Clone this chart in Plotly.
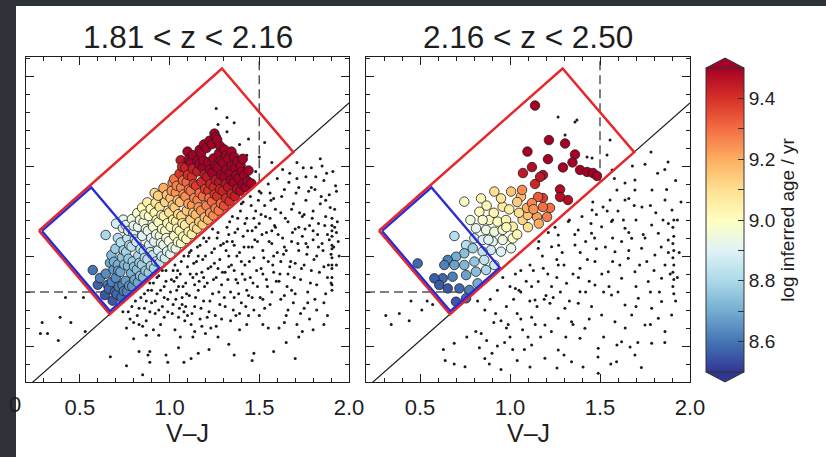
import math
import plotly.graph_objects as go

W, H = 826, 457

# ---------------- text / ticks ----------------
panel_titles = ["1.81 < z < 2.16", "2.16 < z < 2.50"]
x_title = "V\u2013J"
cbar_title = "log inferred age / yr"
cbar_tickvals = [8.6, 8.7, 8.8, 8.9, 9.0, 9.1, 9.2, 9.3, 9.4]
cbar_ticktext = ["8.6", "", "8.8", "", "9.0", "", "9.2", "", "9.4"]
age_min, age_max = 8.5, 9.5

# ---------------- selection geometry (data units) ----------------
diag_slope, diag_icpt = 0.88, 0.59
uv_cut, vj_cut = 1.3, 1.5
red_box = [(0.272, 1.640), (0.667, 1.177), (1.690, 2.077), (1.292, 2.542)]
blue_box = [(0.272, 1.640), (0.667, 1.177), (0.960, 1.435), (0.565, 1.898)]

# ---------------- panel 1: selected galaxies (V-J, U-V, log age) ----------------
p1_sel = [
    (0.572, 1.422, 8.60),
    (0.600, 1.340, 8.57), (0.612, 1.378, 8.62),
    (0.640, 1.283, 8.55), (0.645, 1.402, 8.64), (0.644, 1.617, 8.80), (0.655, 1.340, 8.60),
    (0.662, 1.318, 8.58), (0.668, 1.462, 8.69),
    (0.683, 1.252, 8.55), (0.678, 1.355, 8.62), (0.688, 1.425, 8.67), (0.676, 1.505, 8.73),
    (0.695, 1.300, 8.58), (0.690, 1.468, 8.71),
    (0.705, 1.288, 8.58), (0.700, 1.378, 8.64), (0.712, 1.452, 8.71), (0.698, 1.540, 8.77), (0.702, 1.680, 8.88),
    (0.716, 1.330, 8.61), (0.714, 1.418, 8.68), (0.712, 1.600, 8.82),
    (0.732, 1.270, 8.59), (0.738, 1.338, 8.63), (0.726, 1.412, 8.69), (0.735, 1.492, 8.75), (0.728, 1.575, 8.82), (0.740, 1.655, 8.88),
    (0.745, 1.305, 8.62), (0.748, 1.452, 8.73), (0.744, 1.532, 8.79), (0.742, 1.702, 8.91),
    (0.762, 1.302, 8.62), (0.755, 1.362, 8.67), (0.768, 1.445, 8.73), (0.758, 1.522, 8.79), (0.765, 1.598, 8.85), (0.756, 1.672, 8.90),
    (0.775, 1.335, 8.66), (0.771, 1.485, 8.76), (0.776, 1.560, 8.82), (0.770, 1.640, 8.87),
    (0.792, 1.332, 8.66), (0.786, 1.405, 8.71), (0.795, 1.470, 8.77), (0.788, 1.552, 8.83), (0.797, 1.628, 8.89), (0.790, 1.705, 8.94),
    (0.805, 1.368, 8.69), (0.802, 1.440, 8.74), (0.806, 1.592, 8.86), (0.800, 1.668, 8.92),
    (0.823, 1.352, 8.69), (0.818, 1.425, 8.74), (0.826, 1.502, 8.80), (0.815, 1.578, 8.86), (0.824, 1.662, 8.92), (0.820, 1.738, 8.97),
    (0.836, 1.390, 8.73), (0.832, 1.462, 8.77), (0.838, 1.540, 8.83), (0.835, 1.700, 8.95),
    (0.853, 1.382, 8.73), (0.846, 1.452, 8.78), (0.856, 1.528, 8.84), (0.848, 1.612, 8.90), (0.855, 1.688, 8.96), (0.847, 1.768, 9.01),
    (0.866, 1.418, 8.76), (0.862, 1.490, 8.81), (0.868, 1.650, 8.93), (0.860, 1.730, 8.99),
    (0.884, 1.408, 8.77), (0.877, 1.482, 8.82), (0.886, 1.562, 8.88), (0.879, 1.640, 8.93), (0.885, 1.722, 8.99), (0.876, 1.798, 9.04),
    (0.896, 1.445, 8.80), (0.892, 1.522, 8.85), (0.898, 1.600, 8.91), (0.895, 1.762, 9.02),
    (0.913, 1.432, 8.80), (0.906, 1.505, 8.85), (0.915, 1.580, 8.91), (0.908, 1.662, 8.97), (0.917, 1.740, 9.02), (0.917, 1.850, 9.11),
    (0.926, 1.470, 8.83), (0.925, 1.620, 8.94), (0.928, 1.700, 9.00), (0.922, 1.795, 9.09),
    (0.944, 1.462, 8.84), (0.936, 1.532, 8.89), (0.946, 1.612, 8.95), (0.938, 1.688, 9.00), (0.945, 1.772, 9.09), (0.936, 1.835, 9.13),
    (0.956, 1.498, 8.87), (0.952, 1.572, 8.92), (0.958, 1.650, 8.98), (0.955, 1.728, 9.03),
    (0.974, 1.488, 8.87), (0.966, 1.562, 8.93), (0.976, 1.640, 8.98), (0.968, 1.722, 9.04), (0.975, 1.800, 9.13), (0.966, 1.878, 9.20),
    (0.986, 1.525, 8.90), (0.982, 1.600, 8.95), (0.988, 1.682, 9.01), (0.985, 1.840, 9.16),
    (1.004, 1.512, 8.91), (0.996, 1.582, 8.96), (1.006, 1.662, 9.01), (0.998, 1.742, 9.10), (1.005, 1.822, 9.16), (1.017, 1.906, 9.26),
    (1.016, 1.548, 8.93), (1.020, 1.702, 9.04), (1.018, 1.782, 9.13), (1.012, 1.862, 9.23),
    (1.034, 1.542, 8.94), (1.026, 1.612, 8.99), (1.036, 1.692, 9.05), (1.028, 1.770, 9.14), (1.035, 1.852, 9.24), (1.026, 1.928, 9.29),
    (1.046, 1.578, 8.97), (1.042, 1.652, 9.02), (1.048, 1.732, 9.11), (1.045, 1.810, 9.17), (1.040, 1.890, 9.27),
    (1.064, 1.572, 8.98), (1.056, 1.640, 9.03), (1.066, 1.722, 9.12), (1.058, 1.800, 9.17), (1.065, 1.880, 9.27), (1.056, 1.958, 9.39), (1.062, 2.032, 9.45),
    (1.076, 1.608, 9.01), (1.072, 1.682, 9.06), (1.078, 1.842, 9.24), (1.075, 1.920, 9.31), (1.070, 1.995, 9.42),
    (1.094, 1.595, 9.01), (1.086, 1.672, 9.06), (1.096, 1.752, 9.15), (1.088, 1.830, 9.25), (1.095, 1.910, 9.31), (1.087, 1.990, 9.43), (1.100, 2.080, 9.50),
    (1.106, 1.635, 9.04), (1.105, 1.790, 9.22), (1.108, 1.870, 9.28), (1.102, 1.950, 9.40), (1.106, 2.035, 9.50),
    (1.124, 1.622, 9.05), (1.116, 1.700, 9.13), (1.126, 1.782, 9.23), (1.118, 1.862, 9.29), (1.125, 1.940, 9.40), (1.117, 2.020, 9.50), (1.130, 2.060, 9.50),
    (1.136, 1.662, 9.10), (1.132, 1.740, 9.16), (1.138, 1.822, 9.26), (1.135, 1.900, 9.37), (1.130, 1.985, 9.44),
    (1.154, 1.652, 9.11), (1.146, 1.730, 9.17), (1.156, 1.810, 9.27), (1.148, 1.890, 9.38), (1.155, 1.970, 9.44), (1.155, 2.030, 9.50),
    (1.166, 1.690, 9.14), (1.162, 1.770, 9.24), (1.168, 1.850, 9.30), (1.165, 2.010, 9.50), (1.168, 2.090, 9.50),
    (1.184, 1.675, 9.14), (1.176, 1.752, 9.24), (1.186, 1.832, 9.30), (1.178, 1.912, 9.41), (1.185, 1.992, 9.50), (1.176, 2.070, 9.50),
    (1.196, 1.715, 9.17), (1.198, 1.872, 9.38), (1.195, 1.952, 9.44), (1.190, 2.030, 9.50), (1.192, 2.120, 9.50),
    (1.214, 1.702, 9.18), (1.206, 1.780, 9.27), (1.216, 1.862, 9.39), (1.208, 1.940, 9.45), (1.215, 2.020, 9.50), (1.206, 2.100, 9.50),
    (1.226, 1.740, 9.24), (1.222, 1.822, 9.30), (1.228, 1.900, 9.42), (1.225, 1.980, 9.50), (1.222, 2.140, 9.50),
    (1.244, 1.725, 9.25), (1.236, 1.802, 9.31), (1.246, 1.882, 9.42), (1.238, 1.962, 9.50), (1.245, 2.042, 9.50), (1.236, 2.122, 9.50), (1.250, 2.180, 9.50),
    (1.256, 1.765, 9.28), (1.252, 1.842, 9.39), (1.258, 1.922, 9.45), (1.255, 2.002, 9.50), (1.258, 2.160, 9.50),
    (1.274, 1.752, 9.28), (1.266, 1.832, 9.40), (1.276, 1.910, 9.46), (1.268, 1.990, 9.50), (1.275, 2.070, 9.50), (1.266, 2.145, 9.50),
    (1.286, 1.792, 9.31), (1.282, 1.870, 9.42), (1.288, 1.950, 9.50), (1.285, 2.030, 9.50), (1.282, 2.110, 9.50),
    (1.304, 1.780, 9.35), (1.296, 1.862, 9.43), (1.306, 1.940, 9.50), (1.298, 2.020, 9.50), (1.305, 2.092, 9.50),
    (1.316, 1.820, 9.40), (1.312, 1.900, 9.46), (1.318, 1.980, 9.50), (1.315, 2.058, 9.50),
    (1.334, 1.805, 9.40), (1.326, 1.882, 9.46), (1.336, 1.960, 9.50), (1.328, 2.040, 9.50),
    (1.346, 1.845, 9.43), (1.342, 1.920, 9.50), (1.348, 2.000, 9.50), (1.345, 2.080, 9.50),
    (1.364, 1.832, 9.44), (1.356, 1.910, 9.50), (1.366, 1.990, 9.50), (1.360, 2.050, 9.50),
    (1.376, 1.872, 9.47), (1.372, 1.950, 9.50), (1.378, 2.025, 9.50),
    (1.394, 1.862, 9.48), (1.386, 1.932, 9.50), (1.396, 2.002, 9.50),
    (1.406, 1.898, 9.50), (1.402, 1.968, 9.50), (1.408, 2.040, 9.50),
    (1.424, 1.882, 9.50), (1.416, 1.950, 9.50),
    (1.436, 1.915, 9.50), (1.440, 1.975, 9.50),
    (1.456, 1.903, 9.50),
]

# ---------------- panel 1: all other galaxies (V-J, U-V) ----------------
p1_other = [
    (0.29, 1.13), (0.39, 1.16), (0.45, 1.13), (0.28, 1.07), (0.32, 1.07), (0.38, 1.03), (0.53, 1.08),
    (0.42, 1.27), (0.52, 1.27), (0.74, 1.19), (0.67, 0.94), (0.76, 0.89), (0.85, 0.84), (0.89, 0.97),
    (0.98, 0.95), (0.83, 0.97), (0.88, 0.95), (0.89, 0.91), (0.99, 0.91),
    (0.79, 1.22), (0.82, 1.17), (0.84, 1.27), (0.86, 1.21), (0.88, 1.31), (0.87, 1.14), (0.90, 1.24),
    (0.91, 1.35), (0.92, 1.18), (0.93, 1.29), (0.94, 1.39), (0.95, 1.12), (0.96, 1.22), (0.97, 1.33),
    (0.98, 1.42), (0.99, 1.26), (0.85, 1.11), (0.80, 1.13), (0.89, 1.35), (0.77, 1.19), (0.83, 1.12),
    (0.97, 1.16),
    (0.78, 1.15), (0.81, 1.25), (0.83, 1.21), (0.86, 1.29), (0.87, 1.25), (0.89, 1.19), (0.90, 1.31),
    (0.92, 1.25), (0.93, 1.38), (0.94, 1.20), (0.95, 1.31), (0.96, 1.42), (0.97, 1.27), (0.98, 1.36),
    (0.99, 1.19), (0.91, 1.09), (0.94, 1.06), (0.87, 1.06), (0.80, 1.04), (0.76, 1.10),
    (1.01, 1.37), (1.02, 1.23), (1.03, 1.45), (1.04, 1.31), (1.05, 1.16), (1.06, 1.40), (1.07, 1.27),
    (1.08, 1.50), (1.08, 1.19), (1.09, 1.35), (1.10, 1.44), (1.11, 1.28), (1.12, 1.53), (1.12, 1.12),
    (1.13, 1.38), (1.14, 1.22), (1.15, 1.47), (1.16, 1.31), (1.17, 1.56), (1.17, 1.15), (1.18, 1.41),
    (1.19, 1.25), (1.20, 1.50), (1.21, 1.35), (1.22, 1.60), (1.22, 1.19), (1.23, 1.44), (1.24, 1.29),
    (1.25, 1.54), (1.26, 1.38), (1.26, 1.11), (1.27, 1.63), (1.28, 1.23), (1.28, 1.48), (1.29, 1.34),
    (1.30, 1.57), (1.03, 1.09), (1.06, 1.05), (1.14, 1.08), (1.20, 1.07), (1.11, 1.52), (1.02, 1.42),
    (1.15, 1.40), (1.24, 1.65), (1.19, 1.60), (1.09, 1.22), (1.16, 1.50), (1.27, 1.43), (1.05, 1.33),
    (1.21, 1.16), (1.08, 0.91), (1.05, 0.99), (1.16, 0.96), (1.27, 1.05),
    (1.005, 1.30), (1.015, 1.18), (1.025, 1.36), (1.035, 1.26), (1.045, 1.42), (1.055, 1.21), (1.065, 1.47),
    (1.075, 1.33), (1.085, 1.14), (1.095, 1.29), (1.105, 1.50), (1.115, 1.40), (1.125, 1.18), (1.135, 1.46),
    (1.145, 1.27), (1.155, 1.55), (1.165, 1.36), (1.175, 1.21), (1.185, 1.48), (1.195, 1.33), (1.205, 1.58),
    (1.215, 1.43), (1.225, 1.25), (1.235, 1.52), (1.245, 1.37), (1.255, 1.17), (1.265, 1.60), (1.275, 1.30),
    (1.285, 1.56), (1.295, 1.41), (1.04, 1.38), (1.10, 1.17), (1.13, 1.05), (1.18, 1.11), (1.23, 1.10),
    (1.29, 1.15), (1.19, 1.38), (1.25, 1.46), (1.14, 1.34), (1.07, 1.23),
    (1.31, 1.41), (1.31, 1.22), (1.32, 1.66), (1.33, 1.50), (1.34, 1.30), (1.35, 1.72), (1.35, 1.58),
    (1.36, 1.42), (1.37, 1.17), (1.38, 1.65), (1.38, 1.35), (1.39, 1.52), (1.40, 1.79), (1.40, 1.24),
    (1.41, 1.61), (1.42, 1.45), (1.43, 1.71), (1.43, 1.31), (1.44, 1.55), (1.45, 1.83), (1.45, 1.38),
    (1.46, 1.64), (1.47, 1.20), (1.47, 1.49), (1.48, 1.75), (1.49, 1.58), (1.49, 1.33), (1.50, 1.86),
    (1.50, 1.68), (1.51, 1.43), (1.52, 1.53), (1.52, 1.26), (1.53, 1.78), (1.54, 1.63), (1.54, 1.37),
    (1.55, 1.90), (1.55, 1.47), (1.56, 1.71), (1.57, 1.57), (1.57, 1.30), (1.58, 1.82), (1.58, 1.41),
    (1.59, 1.66), (1.60, 1.52), (1.60, 1.93), (1.33, 1.62), (1.36, 1.27), (1.42, 1.68), (1.46, 1.27),
    (1.51, 1.73), (1.56, 1.85), (1.44, 1.17), (1.46, 0.92), (1.33, 1.01), (1.39, 1.09), (1.52, 1.12),
    (1.47, 0.96),
    (1.305, 1.27), (1.315, 1.53), (1.325, 1.37), (1.335, 1.69), (1.345, 1.45), (1.355, 1.20), (1.365, 1.63),
    (1.375, 1.50), (1.385, 1.29), (1.395, 1.75), (1.405, 1.40), (1.415, 1.55), (1.425, 1.22), (1.435, 1.64),
    (1.445, 1.47), (1.455, 1.78), (1.465, 1.35), (1.475, 1.59), (1.485, 1.42), (1.495, 1.81), (1.505, 1.27),
    (1.515, 1.62), (1.525, 1.49), (1.535, 1.72), (1.545, 1.33), (1.555, 1.58), (1.565, 1.81), (1.575, 1.45),
    (1.585, 1.67), (1.595, 1.36), (1.32, 1.58), (1.37, 1.37), (1.41, 1.80), (1.44, 1.28), (1.48, 1.66),
    (1.52, 1.40), (1.56, 1.23), (1.59, 1.76), (1.34, 1.14), (1.39, 1.18), (1.43, 1.12), (1.50, 1.17),
    (1.55, 1.10), (1.36, 1.56), (1.40, 1.47), (1.46, 1.55), (1.51, 1.85), (1.53, 1.21), (1.57, 1.64),
    (1.42, 1.37), (1.38, 1.71), (1.47, 1.71), (1.33, 1.44), (1.58, 1.50),
    (1.61, 1.36), (1.62, 1.74), (1.62, 1.47), (1.63, 1.60), (1.64, 1.28), (1.64, 1.87), (1.65, 1.53),
    (1.66, 1.69), (1.66, 1.40), (1.67, 1.96), (1.68, 1.58), (1.68, 1.31), (1.69, 1.79), (1.70, 1.46),
    (1.70, 1.65), (1.71, 2.02), (1.72, 1.53), (1.72, 1.88), (1.73, 1.37), (1.74, 1.72), (1.74, 1.61),
    (1.75, 1.45), (1.76, 1.94), (1.76, 1.81), (1.77, 1.55), (1.77, 1.30), (1.78, 1.67), (1.79, 1.99),
    (1.79, 1.42), (1.80, 1.75), (1.80, 1.59), (1.81, 1.87), (1.82, 1.50), (1.82, 1.34), (1.83, 1.68),
    (1.84, 2.04), (1.84, 1.79), (1.85, 1.57), (1.86, 1.44), (1.86, 1.92), (1.87, 1.72), (1.88, 1.62),
    (1.88, 1.38), (1.89, 1.84), (1.90, 1.51), (1.91, 1.97), (1.92, 1.76), (1.92, 1.66), (1.93, 1.45),
    (1.93, 1.86), (1.94, 1.58), (1.63, 1.98), (1.69, 1.24), (1.75, 1.21), (1.81, 1.26), (1.87, 1.29),
    (1.65, 1.17), (1.78, 1.15), (1.71, 1.12), (1.65, 1.02), (1.74, 1.08), (1.86, 1.12), (1.61, 1.10),
    (1.605, 1.62), (1.615, 1.40), (1.625, 1.83), (1.635, 1.51), (1.645, 1.71), (1.655, 1.33), (1.665, 1.91),
    (1.675, 1.47), (1.685, 1.63), (1.695, 1.38), (1.705, 1.85), (1.715, 1.57), (1.725, 1.74), (1.735, 1.43),
    (1.745, 1.99), (1.755, 1.65), (1.765, 1.51), (1.775, 1.86), (1.785, 1.35), (1.795, 1.71), (1.805, 1.48),
    (1.815, 1.94), (1.825, 1.62), (1.835, 1.41), (1.845, 1.83), (1.855, 1.53), (1.865, 1.67), (1.875, 1.96),
    (1.885, 1.45), (1.895, 1.77), (1.915, 1.55), (1.925, 1.89), (1.935, 1.69), (1.945, 1.50), (1.62, 1.26),
    (1.66, 1.20), (1.70, 1.29), (1.73, 1.18), (1.77, 1.24), (1.82, 1.20), (1.86, 1.24), (1.90, 1.35),
    (1.64, 1.55), (1.68, 1.76), (1.72, 1.66), (1.76, 1.57), (1.79, 1.88), (1.83, 1.55), (1.87, 1.81),
    (1.67, 1.44), (1.71, 1.93), (1.75, 1.73), (1.80, 1.64), (1.85, 2.00), (1.89, 1.59), (1.93, 1.63),
    (1.64, 1.13), (1.72, 1.05), (1.80, 1.09), (1.88, 1.17),
    (1.12, 0.93), (1.22, 0.98), (1.36, 0.95), (1.58, 0.97), (1.70, 0.93),
    (1.905, 1.31), (1.905, 1.34), (1.905, 1.38), (1.905, 1.43), (1.905, 1.45), (1.905, 1.49),
    (1.905, 1.54), (1.905, 1.56), (1.905, 1.61), (1.905, 1.64), (1.905, 1.67), (1.905, 1.71),
    (1.26, 2.32), (1.32, 2.27), (1.36, 2.24), (1.27, 2.23), (1.32, 2.19), (1.53, 2.13), (1.43, 2.06),
    (1.57, 2.02), (1.48, 1.97), (1.39, 2.12), (1.44, 2.15), (1.50, 2.05),
]

# ---------------- panel 2: selected galaxies ----------------
p2_sel = [
    (0.746, 1.802, 8.98), (0.839, 1.820, 9.03), (0.913, 1.858, 9.10), (1.006, 1.858, 9.15), (1.061, 1.830, 9.17),
    (0.959, 1.774, 9.07), (0.996, 1.759, 9.05), (0.830, 1.746, 9.00), (0.885, 1.700, 8.98), (0.931, 1.691, 9.00),
    (0.978, 1.700, 9.03), (0.848, 1.700, 8.97), (0.811, 1.654, 8.92), (0.867, 1.645, 8.94), (0.913, 1.635, 8.95),
    (0.959, 1.645, 8.98), (1.015, 1.663, 9.05), (1.070, 1.700, 9.12), (1.098, 1.728, 9.15), (0.691, 1.611, 8.82),
    (0.756, 1.561, 8.82), (0.802, 1.598, 8.87), (0.848, 1.589, 8.89), (0.904, 1.580, 8.91), (0.959, 1.589, 8.94),
    (1.015, 1.598, 8.98), (1.006, 1.543, 8.93), (0.950, 1.524, 8.89), (0.894, 1.533, 8.87), (0.848, 1.524, 8.84),
    (0.793, 1.543, 8.78), (0.746, 1.515, 8.74), (0.700, 1.496, 8.70), (0.654, 1.478, 8.62), (0.691, 1.450, 8.68),
    (0.635, 1.450, 8.62), (0.746, 1.450, 8.72), (0.802, 1.469, 8.76), (0.857, 1.478, 8.84), (0.913, 1.450, 8.86),
    (0.867, 1.422, 8.80), (0.811, 1.413, 8.74), (0.756, 1.394, 8.68), (0.681, 1.385, 8.62), (0.626, 1.376, 8.58),
    (0.580, 1.376, 8.56), (0.487, 1.459, 8.58), (0.607, 1.339, 8.56), (0.654, 1.320, 8.55), (0.719, 1.320, 8.58),
    (0.774, 1.311, 8.62), (0.820, 1.348, 8.70), (0.700, 1.246, 8.55), (0.756, 1.265, 8.58),
    (1.139, 2.336, 9.50), (1.216, 2.144, 9.50), (1.306, 2.125, 9.50), (1.097, 2.080, 9.50), (1.211, 2.038, 9.50),
    (1.361, 2.064, 9.50), (1.122, 1.994, 9.47), (1.072, 1.961, 9.45), (1.183, 1.950, 9.47), (1.294, 1.992, 9.50),
    (1.347, 2.020, 9.50), (1.389, 1.978, 9.50), (1.428, 1.967, 9.50), (1.461, 1.961, 9.50), (1.483, 1.945, 9.50),
    (1.139, 1.900, 9.42), (1.067, 1.867, 9.25), (1.278, 1.870, 9.48), (1.322, 1.811, 9.47), (1.183, 1.822, 9.38),
    (1.222, 1.767, 9.30), (1.094, 1.767, 9.20), (1.150, 1.717, 9.22), (1.206, 1.717, 9.28), (1.156, 1.828, 9.33),
    (1.122, 1.794, 9.26), (1.183, 1.772, 9.30), (1.167, 1.939, 9.45), (1.278, 1.828, 9.47),
    (0.870, 1.780, 9.02), (0.910, 1.740, 9.03), (1.040, 1.800, 9.14), (1.050, 1.740, 9.10), (1.130, 1.760, 9.24),
    (0.950, 1.820, 9.08), (1.100, 1.660, 9.10), (1.160, 1.680, 9.20), (0.780, 1.700, 8.95), (0.980, 1.660, 9.00),
    (1.040, 1.620, 9.03), (0.880, 1.590, 8.90),
]

# ---------------- panel 2: all other galaxies ----------------
p2_other = [
    (0.31, 1.17), (0.385, 1.18), (0.44, 1.14), (0.34, 1.12), (0.45, 1.25), (0.54, 1.25), (0.57, 1.23),
    (0.63, 0.98), (0.64, 0.92), (0.69, 0.90), (0.75, 0.885), (0.69, 1.015), (0.76, 1.05), (0.51, 1.20),
    (0.81, 1.08), (0.84, 1.07), (0.87, 1.03), (0.91, 1.13), (0.95, 1.14), (0.92, 1.18), (0.98, 1.22),
    (1.02, 1.26), (1.04, 1.18), (1.07, 1.09), (1.015, 0.98), (0.90, 0.96), (0.86, 0.93), (0.885, 0.90),
    (0.83, 0.99), (0.95, 0.87), (1.00, 1.33), (1.05, 1.31), (1.09, 1.36), (1.11, 1.25), (0.86, 1.20),
    (0.93, 1.31), (0.96, 1.38), (1.06, 1.42), (0.82, 1.25), (0.89, 1.26), (1.00, 1.05), (1.08, 0.98),
    (1.03, 1.40), (0.97, 1.02),
    (1.324, 1.691), (1.379, 1.645), (1.268, 1.617), (1.157, 1.543), (1.231, 1.552), (1.361, 1.561),
    (1.453, 1.626), (1.509, 1.663), (1.111, 1.45), (1.185, 1.432), (1.268, 1.45), (1.389, 1.432),
    (1.472, 1.469), (1.157, 1.358), (1.231, 1.33), (1.314, 1.348), (1.389, 1.302), (1.472, 1.339),
    (1.139, 1.256), (1.222, 1.237), (1.305, 1.21), (1.379, 1.237), (1.453, 1.219), (1.509, 1.172),
    (1.194, 1.117), (1.268, 1.154), (1.342, 1.135), (1.416, 1.098), (1.12, 1.006), (1.268, 0.978),
    (1.389, 1.043), (1.49, 0.987), (1.194, 0.932), (1.342, 0.913), (1.49, 0.848), (1.111, 0.883),
    (1.261, 0.878), (1.406, 0.883), (1.489, 0.939), (1.16, 1.58), (1.29, 1.52), (1.42, 1.58),
    (1.35, 1.40), (1.20, 1.28), (1.44, 1.36), (1.26, 1.38), (1.12, 1.33), (1.48, 1.73), (1.40, 1.72),
    (1.33, 1.70), (1.46, 1.80), (1.25, 1.66), (1.213, 1.63),
    (1.564, 1.691), (1.639, 1.654), (1.676, 1.598), (1.787, 1.672), (1.824, 1.626), (1.879, 1.589),
    (1.583, 1.524), (1.657, 1.487), (1.731, 1.543), (1.805, 1.506), (1.861, 1.45), (1.546, 1.413),
    (1.62, 1.376), (1.694, 1.413), (1.768, 1.358), (1.842, 1.376), (1.564, 1.284), (1.639, 1.228),
    (1.713, 1.265), (1.787, 1.21), (1.842, 1.247), (1.583, 1.135), (1.676, 1.172), (1.75, 1.117),
    (1.824, 1.154), (1.62, 1.024), (1.694, 0.95), (1.787, 1.015), (1.592, 0.913), (1.898, 1.172),
    (1.861, 1.08), (1.639, 1.811), (1.694, 1.867), (1.789, 1.867), (1.861, 1.811), (1.733, 1.772),
    (1.90, 1.756), (1.639, 1.906), (1.517, 1.772), (1.556, 1.811), (1.456, 1.756), (1.783, 2.078),
    (1.878, 2.022), (1.694, 1.922), (1.594, 1.867), (1.60, 1.75), (1.70, 1.70), (1.78, 1.78),
    (1.85, 1.70), (1.92, 1.92), (1.66, 1.63), (1.74, 1.62), (1.57, 1.60), (1.82, 1.96), (1.68, 2.00),
    (1.53, 1.55), (1.61, 1.45), (1.76, 1.47), (1.88, 1.52), (1.55, 1.33), (1.70, 1.33), (1.83, 1.30),
    (1.93, 1.38), (1.594, 1.006), (1.667, 0.994),
    (0.99, 1.12), (1.03, 1.32), (1.06, 1.15), (1.10, 1.05), (1.13, 1.42), (1.15, 1.22), (1.18, 1.50),
    (1.21, 1.40), (1.24, 1.27), (1.27, 1.56), (1.30, 1.45), (1.33, 1.25), (1.36, 1.62), (1.39, 1.52),
    (1.42, 1.30), (1.45, 1.68), (1.48, 1.54), (1.51, 1.40), (1.54, 1.75), (1.57, 1.47), (1.60, 1.30),
    (1.63, 1.70), (1.66, 1.53), (1.69, 1.78), (1.72, 1.45), (1.75, 1.60), (1.78, 1.30), (1.81, 1.74),
    (1.84, 1.55), (1.87, 1.87), (1.89, 1.40), (1.93, 1.70), (1.94, 1.52), (1.17, 1.05), (1.23, 1.08),
    (1.31, 1.05), (1.44, 1.15), (1.52, 1.05), (1.64, 1.10), (1.71, 1.02), (1.78, 1.12), (1.86, 1.02),
    (1.92, 1.25), (1.62, 1.58), (1.52, 1.30), (1.43, 1.48), (1.35, 1.12), (1.28, 1.30), (1.19, 1.26),
    (1.14, 1.12), (1.70, 1.22), (1.80, 1.42), (1.88, 1.68), (1.58, 1.93), (1.75, 2.01), (1.86, 1.98),
    (1.95, 1.80), (1.66, 1.82), (1.57, 1.70), (1.47, 1.60), (1.38, 1.38), (1.26, 1.48), (1.06, 1.30),
    (0.98, 1.10), (0.93, 1.00), (1.04, 0.92), (1.12, 1.16), (1.30, 0.95), (1.56, 0.90), (1.73, 0.88),
    (1.91, 1.70), (1.905, 1.66), (1.91, 1.61), (1.905, 1.57), (1.91, 1.53), (1.905, 1.49),
    (1.91, 1.45), (1.905, 1.41), (1.91, 1.37), (1.905, 1.33), (1.91, 1.29),
    (1.267, 2.272), (1.361, 2.244), (1.306, 2.172), (1.556, 2.144), (1.539, 2.061), (1.428, 2.05),
    (1.456, 2.044), (1.567, 1.978), (1.372, 2.256),
]

# ---------------- styling ----------------
FONT = "Liberation Sans, Arial, Helvetica, sans-serif"
DARK_BG = "#2f3138"
RED = "#e8262b"
BLUE = "#2b2bd6"
INK = "#1e1e1e"
RdYlBu_r = [[0.0, "#313695"], [0.1, "#4575b4"], [0.2, "#74add1"], [0.3, "#abd9e9"],
            [0.4, "#e0f3f8"], [0.5, "#ffffbf"], [0.6, "#fee090"], [0.7, "#fdae61"],
            [0.8, "#f46d43"], [0.9, "#d73027"], [1.0, "#a50026"]]

x_range = [0.2, 2.0]
y_range = [0.8, 2.6056]


def px(x):
    return x / W


def py(y):
    return 1 - y / H


dom_x = [[px(26), px(349)], [px(366), px(690)]]
dom_y = [py(382), py(57)]


def inset_box(box, eps):
    # shrink a rotated rectangle inwards so it sits just inside the red outline
    (lx, ly), (bx, by), (rx, ry), (tx, ty) = box
    dl = math.hypot(rx - bx, ry - by)
    dx, dy = (rx - bx) / dl, (ry - by) / dl
    nx, ny = -dy, dx
    return [(lx + eps * (dx - nx), ly + eps * (dy - ny)),
            (bx + eps * (dx + nx), by + eps * (dy + ny)),
            (rx + eps * (-dx + nx), ry + eps * (-dy + ny)),
            (tx + eps * (-dx - nx), ty + eps * (-dy - ny))]


fig = go.Figure()

for i, (sel, other) in enumerate([(p1_sel, p1_other), (p2_sel, p2_other)]):
    xa = "x" if i == 0 else "x2"
    ya = "y" if i == 0 else "y2"
    x_int = (uv_cut - diag_icpt) / diag_slope
    fig.add_trace(go.Scatter(x=[x_range[0], x_int], y=[uv_cut, uv_cut], mode="lines",
                             line=dict(color="#555555", width=1.5, dash="9px,5px"),
                             xaxis=xa, yaxis=ya, showlegend=False, hoverinfo="skip"))
    fig.add_trace(go.Scatter(x=[vj_cut, vj_cut], y=[diag_slope * vj_cut + diag_icpt, y_range[1]],
                             mode="lines", line=dict(color="#555555", width=1.5, dash="9px,5px"),
                             xaxis=xa, yaxis=ya, showlegend=False, hoverinfo="skip"))
    fig.add_trace(go.Scatter(x=[x_range[0], x_range[1]],
                             y=[diag_slope * x_range[0] + diag_icpt, diag_slope * x_range[1] + diag_icpt],
                             mode="lines", line=dict(color=INK, width=1.2),
                             xaxis=xa, yaxis=ya, showlegend=False, hoverinfo="skip"))
    fig.add_trace(go.Scatter(x=[p[0] for p in other], y=[p[1] for p in other], mode="markers",
                             marker=dict(size=3, color="#1a1a1a", line=dict(width=0)),
                             xaxis=xa, yaxis=ya, showlegend=False, hoverinfo="skip"))
    fig.add_trace(go.Scatter(x=[p[0] for p in sel], y=[p[1] for p in sel], mode="markers",
                             marker=dict(size=9.5, color=[p[2] for p in sel], coloraxis="coloraxis",
                                         line=dict(color="#1e1e1e", width=0.8)),
                             xaxis=xa, yaxis=ya, showlegend=False))
    rb = red_box + [red_box[0]]
    fig.add_trace(go.Scatter(x=[p[0] for p in rb], y=[p[1] for p in rb], mode="lines",
                             line=dict(color=RED, width=2.5),
                             xaxis=xa, yaxis=ya, showlegend=False, hoverinfo="skip"))
    bb = inset_box(blue_box, 0.012)
    bb = bb + [bb[0]]
    fig.add_trace(go.Scatter(x=[p[0] for p in bb], y=[p[1] for p in bb], mode="lines",
                             line=dict(color=BLUE, width=2.3),
                             xaxis=xa, yaxis=ya, showlegend=False, hoverinfo="skip"))

axis_common = dict(showgrid=False, zeroline=False, showline=True, linecolor=INK, linewidth=1.3,
                   mirror="ticks", ticks="inside", tickcolor=INK, tickwidth=1.1, ticklen=8)

for i in range(2):
    xkey = "xaxis" if i == 0 else "xaxis2"
    ykey = "yaxis" if i == 0 else "yaxis2"
    fig.update_layout({
        xkey: dict(axis_common, domain=dom_x[i], range=x_range, tick0=0, dtick=0.5,
                   tickformat=".1f", tickfont=dict(size=22, color=INK, family=FONT),
                   ticklabelstandoff=5,
                   minor=dict(ticks="inside", ticklen=4, dtick=0.1, tick0=0, tickcolor=INK, tickwidth=1),
                   anchor="y" if i == 0 else "y2"),
        ykey: dict(axis_common, domain=dom_y, range=y_range, tick0=0, dtick=0.5,
                   showticklabels=False,
                   minor=dict(ticks="inside", ticklen=4, dtick=0.1, tick0=0, tickcolor=INK, tickwidth=1),
                   anchor="x" if i == 0 else "x2"),
    })

annotations = []
for i in range(2):
    cx = (dom_x[i][0] + dom_x[i][1]) / 2
    annotations.append(dict(text=panel_titles[i], x=cx, y=py(37), xref="paper", yref="paper",
                            showarrow=False, xanchor="center", yanchor="middle",
                            font=dict(size=31.5, color=INK, family=FONT)))
    annotations.append(dict(text=x_title, x=cx, y=py(433), xref="paper", yref="paper",
                            showarrow=False, xanchor="center", yanchor="middle",
                            font=dict(size=25, color=INK, family=FONT)))
annotations.append(dict(text="0", x=px(23), y=py(404), xref="paper", yref="paper",
                        showarrow=False, xanchor="right", yanchor="middle",
                        font=dict(size=22, color=INK, family=FONT)))

shapes = [
    dict(type="rect", xref="paper", yref="paper", x0=px(16), x1=1.01, y0=-0.01, y1=py(6),
         fillcolor="white", line=dict(width=0), layer="below"),
    dict(type="path", xref="paper", yref="paper",
         path=f"M {px(706)} {py(68)} L {px(744)} {py(68)} L {px(725)} {py(58)} Z",
         fillcolor="#a50026", line=dict(color="#333333", width=1)),
    dict(type="path", xref="paper", yref="paper",
         path=f"M {px(706)} {py(372)} L {px(744)} {py(372)} L {px(725)} {py(382)} Z",
         fillcolor="#313695", line=dict(color="#333333", width=1)),
]

fig.update_layout(
    width=W, height=H, autosize=False,
    margin=dict(l=0, r=0, t=0, b=0, autoexpand=False),
    paper_bgcolor=DARK_BG, plot_bgcolor="white",
    font=dict(family=FONT, color=INK),
    showlegend=False,
    annotations=annotations,
    shapes=shapes,
    coloraxis=dict(
        colorscale=RdYlBu_r, cmin=age_min, cmax=age_max,
        colorbar=dict(
            x=px(706), xanchor="left", y=py(220), yanchor="middle",
            len=304 / H, lenmode="fraction", thickness=38, thicknessmode="pixels",
            xpad=0, ypad=0, outlinewidth=1, outlinecolor="#333333",
            tickvals=cbar_tickvals, ticktext=cbar_ticktext,
            ticks="inside", ticklen=6, tickcolor="#333333",
            tickfont=dict(size=19, color=INK, family=FONT),
            title=dict(text=cbar_title, side="right", font=dict(size=19, color=INK, family=FONT)),
        ),
    ),
)

fig.write_html(
    "out.html",
    config={"displayModeBar": False},
    post_script="document.body.style.margin='0';document.body.style.padding='0';"
                "document.body.style.background='" + DARK_BG + "';",
)
